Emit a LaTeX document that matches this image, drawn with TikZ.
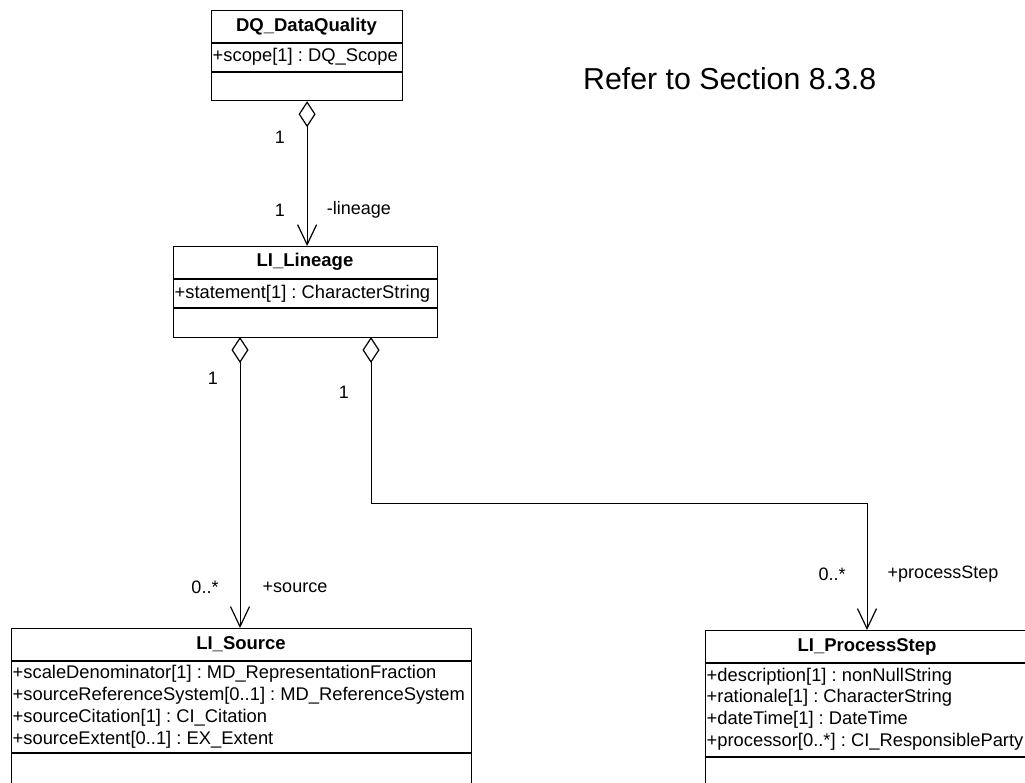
\documentclass[tikz,border=0pt]{standalone}
\usepackage{fontspec}
\setmainfont{Liberation Sans}
\usetikzlibrary{arrows.meta,calc}
\begin{document}
\frenchspacing
\begin{tikzpicture}[x=1pt,y=-1pt,
  box/.style={draw,line width=1.2pt,inner sep=0pt,anchor=north west},
  cname/.style={font=\fontsize{18.5}{21}\selectfont\bfseries,inner sep=0pt},
  attr/.style={font=\fontsize{18.35}{21}\selectfont,anchor=west,inner sep=0pt},
  lbl/.style={font=\fontsize{18}{21}\selectfont,inner sep=0pt},
  sep/.style={line width=1.2pt},
  assoc/.style={line width=1pt,{Diamond[open,length=26pt,width=17pt,line width=1.2pt]}-{Straight Barb[length=20pt,width=19pt,line width=1.2pt]}}
]
\path[use as bounding box] (0,0) rectangle (1025,782);
\clip (0,0) rectangle (1025,782);

% DQ_DataQuality
\node[box,minimum width=191pt,minimum height=90pt] (dq) at (211,10) {};
\draw[sep] ($(dq.north west)+(0,33)$) -- ($(dq.north east)+(0,33)$);
\draw[sep] ($(dq.north west)+(0,62)$) -- ($(dq.north east)+(0,62)$);
\node[cname] (dqn) at (306.5,27) {DQ\_DataQuality};
\node[attr] (dqa) at (212.5,57) {+scope[1] : DQ\_Scope};

% LI_Lineage
\node[box,minimum width=264pt,minimum height=91pt] (lin) at (173,246) {};
\draw[sep] ($(lin.north west)+(0,33)$) -- ($(lin.north east)+(0,33)$);
\draw[sep] ($(lin.north west)+(0,62)$) -- ($(lin.north east)+(0,62)$);
\node[cname] (linn) at (305,262) {LI\_Lineage};
\node[attr] (lina) at (174.5,294) {+statement[1] : CharacterString};

% LI_Source
\node[box,minimum width=460pt,minimum height=180pt] (src) at (11,628) {};
\draw[sep] ($(src.north west)+(0,33)$) -- ($(src.north east)+(0,33)$);
\draw[sep] ($(src.north west)+(0,125)$) -- ($(src.north east)+(0,125)$);
\node[cname] (srcn) at (241,644) {LI\_Source};
\node[attr] (srca1) at (12.5,674) {+scaleDenominator[1] : MD\_RepresentationFraction};
\node[attr] (srca2) at (12.5,696) {+sourceReferenceSystem[0..1] : MD\_ReferenceSystem};
\node[attr] (srca3) at (12.5,718) {+sourceCitation[1] : CI\_Citation};
\node[attr] (srca4) at (12.5,740) {+sourceExtent[0..1] : EX\_Extent};

% LI_ProcessStep
\node[box,minimum width=340pt,minimum height=180pt] (ps) at (705,630) {};
\draw[sep] ($(ps.north west)+(0,33)$) -- ($(ps.north east)+(0,33)$);
\draw[sep] ($(ps.north west)+(0,127)$) -- ($(ps.north east)+(0,127)$);
\node[cname] (psn) at (867,647) {LI\_ProcessStep};
\node[attr] (psa1) at (706.5,677) {+description[1] : nonNullString};
\node[attr] (psa2) at (706.5,698) {+rationale[1] : CharacterString};
\node[attr] (psa3) at (706.5,720) {+dateTime[1] : DateTime};
\node[attr] (psa4) at (706.5,742) {+processor[0..*] : CI\_ResponsibleParty};

% connectors
\draw[assoc] (dq.south) -- (dq.south |- lin.north);
\coordinate (ls) at (240,337);
\draw[assoc] (ls) -- (ls |- src.north);
\coordinate (lp) at (371,337);
\coordinate (pst) at (867,630);
\coordinate (bend) at (371,503);
\draw[assoc] (lp) -- (bend) -| (pst);

% labels
\node[lbl] (l1) at (280,137) {1};
\node[lbl] (l2) at (280,210) {1};
\node[lbl] (l3) at (359,210) {-lineage};
\node[lbl] (l4) at (213,378) {1};
\node[lbl] (l5) at (344,392) {1};
\node[lbl] (l6) at (205,587) {0..*};
\node[lbl] (l7) at (295,587) {+source};
\node[lbl] (l8) at (832,574) {0..*};
\node[lbl] (l9) at (943,574) {+processStep};

\node[font=\fontsize{30.3}{36}\selectfont,anchor=west,inner sep=0pt] (ref) at (583,79) {Refer to Section 8.3.8};
\end{tikzpicture}
\end{document}
